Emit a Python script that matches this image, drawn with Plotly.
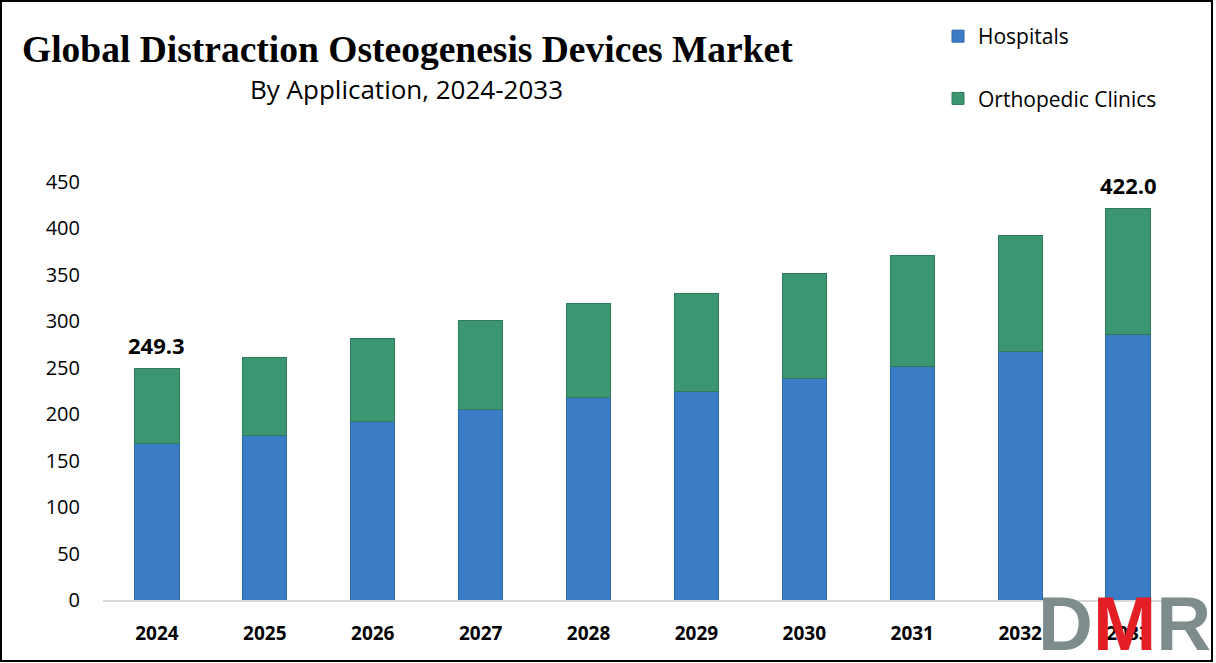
import plotly.graph_objects as go

years = ["2024", "2025", "2026", "2027", "2028", "2029", "2030", "2031", "2032", "2033"]
hospitals = [168.0, 177.6, 191.9, 205.3, 218.2, 224.2, 238.7, 251.2, 267.3, 285.3]
orthopedic = [81.3, 83.7, 89.8, 96.1, 100.5, 106.0, 113.3, 119.5, 125.6, 136.7]
total_labels = ["249.3", "", "", "", "", "", "", "", "", "422.0"]

BLUE = "#3A7DC6"
GREEN = "#3B9671"

fig = go.Figure()
fig.add_trace(go.Bar(x=years, y=hospitals, name="Hospitals", legendgroup="a",
                     marker=dict(color=BLUE, line=dict(color="#2E66A8", width=1))))
fig.add_trace(go.Bar(x=years, y=orthopedic, name="Orthopedic Clinics", legendgroup="b",
                     marker=dict(color=GREEN, line=dict(color="#2F7A5B", width=1))))

totals = [h + o for h, o in zip(hospitals, orthopedic)]
for i, (lab, tot) in enumerate(zip(total_labels, totals)):
    if lab:
        fig.add_annotation(xref="x", yref="y", x=i, y=tot, text="<b>" + lab + "</b>", showarrow=False,
                           yanchor="middle", yshift=23,
                           font=dict(size=22, color="#000000", family="Open Sans"))

L, R, T, B = 103, 34, 182, 63
W, H = 1216, 663
pw, ph = W - L - R, H - T - B

def px(x):
    return (x - L) / pw

def py(y):
    return (H - B - y) / ph

fig.update_layout(
    width=W, height=H, barmode="stack", bargap=0.59,
    margin=dict(l=L, r=R, t=T, b=B),
    plot_bgcolor="white", paper_bgcolor="white",
    font=dict(family="Open Sans", color="#000000"),
    showlegend=True,
    legend=dict(x=px(938), y=py(16), xanchor="left", yanchor="top", orientation="v",
                font=dict(size=21, family="Open Sans"), tracegroupgap=32,
                itemwidth=30, bgcolor="rgba(0,0,0,0)"),
    xaxis=dict(type="category", categoryorder="array", categoryarray=years,
               tickfont=dict(size=19, family="Open Sans", color="#000"), showline=True,
               linecolor="#D9D9D9", linewidth=2, ticks="", showgrid=False,
               tickprefix="<b>", ticksuffix="</b>", ticklabelstandoff=15),
    yaxis=dict(range=[0, 450], dtick=50, tickfont=dict(size=20, family="Open Sans", color="#000"),
               showgrid=False, zeroline=False, showline=False, ticklabelstandoff=22),
)

fig.add_annotation(xref="paper", yref="paper", x=px(20), y=py(50), xanchor="left", yanchor="middle",
                   text="<b>Global Distraction Osteogenesis Devices Market</b>", showarrow=False,
                   font=dict(size=37.5, family="Liberation Serif", color="#000"))
fig.add_annotation(xref="paper", yref="paper", x=px(406), y=py(89), xanchor="center", yanchor="middle",
                   text="By Application, 2024-2033", showarrow=False,
                   font=dict(size=26, family="Open Sans", color="#000"))

fig.add_annotation(xref="paper", yref="paper", x=px(1124), y=py(668), xanchor="center", yanchor="bottom",
                   text="<b><span style='color:#7F8C8D'>D</span><span style='color:#E31E24'>M</span><span style='color:#7F8C8D'>R</span></b>",
                   showarrow=False, font=dict(size=76, family="Liberation Sans", color="#7F8C8D"))

fig.add_shape(type="rect", xref="paper", yref="paper", x0=px(1), x1=px(1212), y0=py(661), y1=py(1),
              line=dict(color="#000", width=2), fillcolor="rgba(0,0,0,0)", layer="above")

fig.write_html("out.html")
